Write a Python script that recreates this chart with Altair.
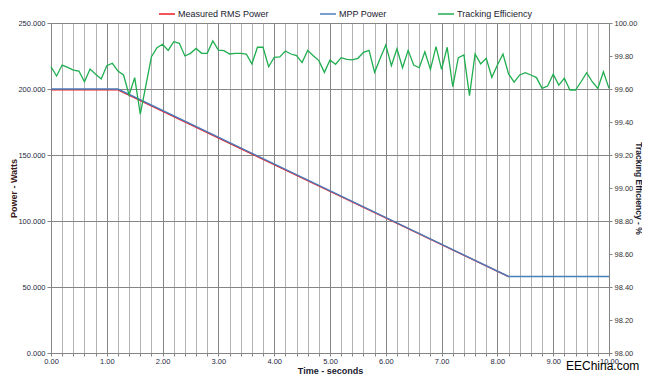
import altair as alt
import pandas as pd

# ---- data ----
time_s = [round(i * 0.1, 1) for i in range(101)]
tracking_eff = [
    99.735, 99.679, 99.745, 99.731, 99.715, 99.709, 99.644, 99.721, 99.689, 99.661,
    99.741, 99.756, 99.709, 99.685, 99.564, 99.669, 99.447, 99.620, 99.796, 99.850,
    99.871, 99.834, 99.887, 99.877, 99.800, 99.816, 99.846, 99.816, 99.816, 99.891,
    99.836, 99.832, 99.812, 99.816, 99.816, 99.812, 99.752, 99.853, 99.853, 99.735,
    99.792, 99.794, 99.830, 99.812, 99.802, 99.760, 99.834, 99.802, 99.772, 99.701,
    99.776, 99.750, 99.790, 99.780, 99.776, 99.786, 99.822, 99.834, 99.701, 99.786,
    99.867, 99.741, 99.844, 99.729, 99.834, 99.745, 99.729, 99.826, 99.719, 99.857,
    99.719, 99.853, 99.614, 99.790, 99.806, 99.560, 99.812, 99.752, 99.786, 99.671,
    99.745, 99.812, 99.691, 99.641, 99.685, 99.699, 99.685, 99.669, 99.604, 99.618,
    99.689, 99.624, 99.665, 99.594, 99.594, 99.644, 99.699, 99.644, 99.604, 99.705,
    99.604,
]
assert len(tracking_eff) == len(time_s)

mpp_t = [0.0, 1.2, 8.2, 10.0]
mpp_w = [200.0, 200.0, 58.0, 58.0]
meas_t = [0.0, 1.2, 8.2]
meas_w = [199.3, 199.3, 57.9]

x_ticks = [round(i * 0.2, 1) for i in range(51)]
power_ticks = [0, 50, 100, 150, 200, 250]
eff_ticks = [98.0, 98.2, 98.4, 98.6, 98.8, 99.0, 99.2, 99.4, 99.6, 99.8, 100.0]

series = ["Measured RMS Power", "MPP Power", "Tracking Efficiency"]
colors = ["#f01c24", "#4a7ebb", "#1fae4f"]

meas_df = pd.DataFrame({"t": meas_t, "v": meas_w, "s": series[0]})
mpp_df = pd.DataFrame({"t": mpp_t, "v": mpp_w, "s": series[1]})
eff_df = pd.DataFrame({"t": time_s, "v": tracking_eff, "s": series[2]})

FONT = "Liberation Sans"
is_major = "abs(datum.value - round(datum.value)) < 0.001"

x_enc = alt.X(
    "t:Q",
    scale=alt.Scale(domain=[0, 10], nice=False, zero=False),
    axis=alt.Axis(
        values=x_ticks,
        labelExpr=f"{is_major} ? format(datum.value, '.2f') : ''",
        grid=True,
        gridColor=alt.condition(is_major, alt.value("#858585"), alt.value("#b4b4b4")),
        gridWidth=1,
        tickColor="#858585",
        tickSize=3,
        domainColor="#858585",
        labelFont=FONT,
        labelFontSize=7.5,
        labelColor="#1f2a44",
        labelPadding=1,
        labelFlush=False,
        labelOverlap=False,
        title="Time - seconds",
        titleFont=FONT,
        titleFontSize=9,
        titleFontWeight="bold",
        titleColor="#1a1a2e",
        titleBaseline="alphabetic",
        titleY=20,
    ),
)

color_enc = alt.Color(
    "s:N",
    scale=alt.Scale(domain=series, range=colors),
    legend=alt.Legend(
        title=None,
        orient="none",
        direction="horizontal",
        legendX=107,
        legendY=-18,
        symbolType="stroke",
        symbolSize=256,
        symbolStrokeWidth=1.5,
        labelFont=FONT,
        labelFontSize=9,
        labelColor="#1a1a2e",
        labelOffset=2,
        columnPadding=48,
    ),
)

power_axis = alt.Axis(
    values=power_ticks,
    format=".3f",
    grid=True,
    gridColor="#858585",
    tickColor="#858585",
    tickSize=4,
    domainColor="#858585",
    labelFont=FONT,
    labelFontSize=7.5,
    labelColor="#1f2a44",
    labelPadding=2,
    title="Power - Watts",
    titleFont=FONT,
    titleFontSize=9,
    titleFontWeight="bold",
    titleColor="#3a1a1a",
    titleX=-33,
    titleY=165,
)

y_power = alt.Y("v:Q", scale=alt.Scale(domain=[0, 250], nice=False), axis=power_axis)

meas_line = alt.Chart(meas_df).mark_line(strokeWidth=1.4).encode(
    x=x_enc, y=y_power, color=color_enc
)
mpp_line = alt.Chart(mpp_df).mark_line(strokeWidth=1.4).encode(
    x=x_enc, y=y_power, color=color_enc
)
power = alt.layer(meas_line, mpp_line)

eff_axis = alt.Axis(
    orient="right",
    values=eff_ticks,
    format=".2f",
    grid=False,
    tickColor="#858585",
    tickSize=3,
    domainColor="#858585",
    labelFont=FONT,
    labelFontSize=7.5,
    labelColor="#333333",
    labelPadding=2,
    title="Tracking Efficiency - %",
    titleFont=FONT,
    titleFontSize=8.5,
    titleFontWeight="bold",
    titleColor="#1a1a2e",
    titleX=24,
    titleY=165,
)

eff_line = alt.Chart(eff_df).mark_line(strokeWidth=1.3).encode(
    x=x_enc,
    y=alt.Y("v:Q", scale=alt.Scale(domain=[98, 100], nice=False, zero=False), axis=eff_axis),
    color=color_enc,
)

watermark = alt.Chart(pd.DataFrame({"txt": ["EEChina.com"]})).mark_text(
    align="left", baseline="alphabetic", fontSize=12, font=FONT, color="#000000"
).encode(x=alt.value(515), y=alt.value(347), text="txt:N")

chart = (
    alt.layer(power, eff_line, watermark)
    .resolve_scale(y="independent")
    .properties(
        width=558,
        height=330,
        autosize=alt.AutoSizeParams(type="none"),
        padding={"left": 43, "top": 15, "right": 33, "bottom": 21},
        background="white",
    )
    .configure_view(stroke=None)
)

chart.save("out.html", embed_options={"renderer": "svg", "actions": False})
